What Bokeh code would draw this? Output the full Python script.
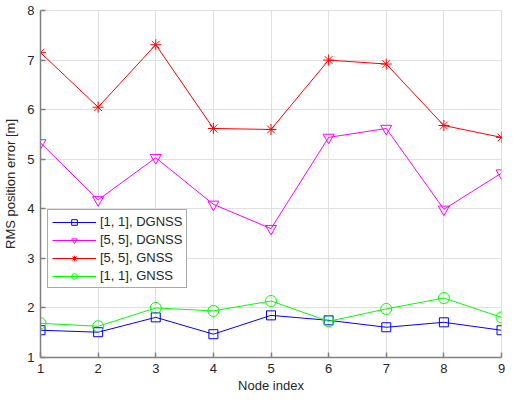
from bokeh.plotting import figure
from bokeh.embed import file_html
from bokeh.resources import INLINE
from bokeh.models import Legend, LegendItem, FixedTicker, Range1d

nodes = [1, 2, 3, 4, 5, 6, 7, 8, 9]
dgnss_11 = [1.55, 1.51, 1.81, 1.47, 1.85, 1.75, 1.61, 1.71, 1.55]
dgnss_55 = [5.33, 4.18, 5.03, 4.09, 3.60, 5.44, 5.62, 3.99, 4.72]
gnss_55 = [7.15, 6.05, 7.31, 5.62, 5.60, 7.00, 6.92, 5.68, 5.44]
gnss_11 = [1.69, 1.63, 2.00, 1.94, 2.14, 1.73, 1.98, 2.20, 1.81]
labels = ["[1, 1], DGNSS", "[5, 5], DGNSS", "[5, 5], GNSS", "[1, 1], GNSS"]

FONT = "Liberation Sans"
AX = "#262626"

p = figure(width=505, height=395, output_backend="svg", toolbar_location=None,
           x_range=Range1d(1, 9), y_range=Range1d(1, 8),
           min_border_left=33, min_border_right=4, min_border_top=10, min_border_bottom=36)

series = [
    (dgnss_11, "#0000FF", "square", 9),
    (dgnss_55, "#FF00FF", "inverted_triangle", 11),
    (gnss_55, "#FF0000", "asterisk", 11),
    (gnss_11, "#00FF00", "circle", 11),
]
items = []
for (vals, col, mk, sz), lab in zip(series, labels):
    l = p.line(nodes, vals, line_color=col, line_width=1)
    s = p.scatter(nodes, vals, marker=mk, size=sz, line_color=col, fill_color=None, line_width=1)
    items.append(LegendItem(label=lab, renderers=[l, s]))

legend = Legend(items=items, location=(7, 69), label_text_font=FONT, label_text_font_size="13px",
                label_text_color=AX, glyph_width=44, glyph_height=14, label_height=14,
                spacing=3, padding=4, margin=0, border_line_color="#555555", border_line_width=1.5,
                background_fill_alpha=1.0, label_standoff=4)
p.add_layout(legend, "center")

p.xaxis.ticker = FixedTicker(ticks=nodes)
p.yaxis.ticker = FixedTicker(ticks=[1, 2, 3, 4, 5, 6, 7, 8])
for ax in (p.xaxis, p.yaxis):
    ax.major_tick_in = 5
    ax.major_tick_out = 0
    ax.minor_tick_in = 0
    ax.minor_tick_out = 0
    ax.axis_line_color = "#808080"
    ax.axis_line_width = 1.5
    ax.major_tick_line_color = "#808080"
    ax.major_tick_line_width = 1.5
    ax.major_label_text_color = AX
    ax.major_label_text_font = FONT
    ax.major_label_text_font_size = "13px"
    ax.axis_label_text_font = FONT
    ax.axis_label_text_font_size = "13px"
    ax.axis_label_text_font_style = "normal"
    ax.axis_label_text_color = AX
p.xaxis.axis_label = "Node index"
p.yaxis.axis_label = "RMS position error [m]"
p.xaxis.major_label_standoff = 6
p.xaxis.axis_label_standoff = 2
p.yaxis.major_label_standoff = 6
p.yaxis.axis_label_standoff = 6

p.xgrid.grid_line_color = "#E0E0E0"
p.ygrid.grid_line_color = "#E0E0E0"
p.outline_line_color = "#E0E0E0"
p.background_fill_color = "white"
p.border_fill_color = "white"

open("out.html", "w").write(file_html(p, INLINE))
